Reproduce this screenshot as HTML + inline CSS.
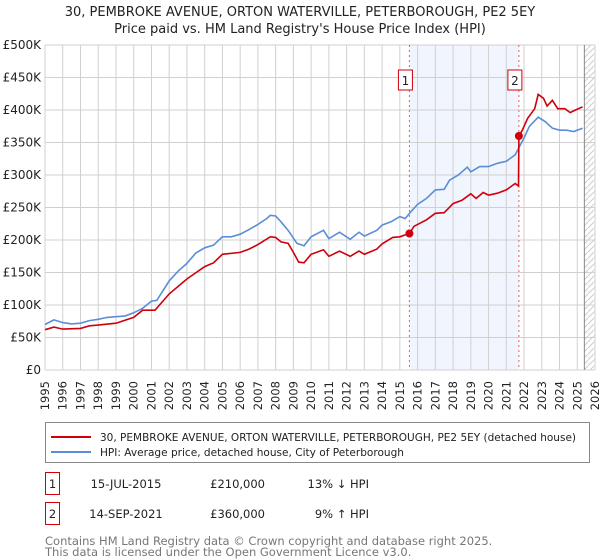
<!DOCTYPE html>
<html><head><meta charset="utf-8"><style>
body{margin:0;background:#fff;font-family:"Liberation Sans","DejaVu Sans",sans-serif;}
#wrap{position:relative;width:600px;height:560px;overflow:hidden;}
svg text{font-family:"DejaVu Sans","Liberation Sans",sans-serif;}
</style></head><body>
<div id="wrap">
<svg id="chart" width="600" height="560"></svg>
</div>
<script>
const yearTicks=[1995,1996,1997,1998,1999,2000,2001,2002,2003,2004,2005,2006,2007,2008,2009,2010,2011,2012,2013,2014,2015,2016,2017,2018,2019,2020,2021,2022,2023,2024,2025,2026];
const valueTicks=[0,50,100,150,200,250,300,350,400,450,500];
const valueTickLabels=["£0","£50K","£100K","£150K","£200K","£250K","£300K","£350K","£400K","£450K","£500K"];
const hpiYears=[1995,1995.5,1996,1996.5,1997,1997.5,1998,1998.5,1999,1999.5,2000,2000.5,2001,2001.3,2002,2002.5,2003,2003.5,2004,2004.5,2005,2005.5,2006,2006.5,2007,2007.5,2007.7,2008,2008.3,2008.7,2009.2,2009.6,2010,2010.7,2011,2011.6,2012.2,2012.7,2013,2013.7,2014,2014.5,2015,2015.3,2015.6,2016,2016.5,2017,2017.5,2017.8,2018.3,2018.8,2019,2019.5,2020,2020.5,2021,2021.5,2022,2022.3,2022.8,2023.2,2023.6,2024,2024.4,2024.8,2025.3];
const hpiValues=[70,77,73,71,72,76,78,81,82,83,88,95,106,107,137,152,164,180,188,192,205,205,209,216,224,233,238,237,228,215,195,191,205,215,202,212,201,212,206,215,223,228,236,233,243,255,264,277,278,292,300,312,305,313,313,318,321,331,357,375,389,382,372,369,369,367,372];
const priceYears=[1995,1995.5,1996,1997,1997.5,1998,1999,2000,2000.5,2001.2,2002,2003,2004,2004.5,2005,2006,2006.5,2007,2007.7,2008,2008.3,2008.7,2009,2009.3,2009.6,2010,2010.7,2011,2011.6,2012.2,2012.7,2013,2013.7,2014,2014.6,2015,2015.54,2015.8,2016.5,2017,2017.5,2018,2018.5,2019,2019.3,2019.7,2020,2020.5,2021,2021.5,2021.69,2021.71,2021.9,2022.2,2022.6,2022.8,2023.1,2023.3,2023.6,2023.9,2024.3,2024.6,2024.9,2025.3];
const priceValues=[62,66,63,64,68,69,72,81,92,92,117,140,159,165,178,181,186,193,205,204,197,195,181,166,165,178,185,175,183,175,183,178,186,194,204,205,210,221,231,241,242,256,261,271,264,273,269,272,277,287,283,360,369,387,402,424,418,406,415,402,402,396,400,405];
const saleYears=[2015.54,2021.71];
const saleValues=[210,360];
const saleLabels=["1","2"];

const NS="http://www.w3.org/2000/svg";
const svg=document.getElementById('chart');
const X0=45,X1=595,Y0=370,Y1=45;
const xs=y=>X0+(y-1995)/(2026-1995)*(X1-X0);
const ys=v=>Y0-v/500*(Y0-Y1);
function mk(tag,attrs,parent){const e=document.createElementNS(NS,tag);for(const k in attrs)e.setAttribute(k,attrs[k]);(parent||svg).appendChild(e);return e;}

let t=mk('text',{x:300,y:16,'text-anchor':'middle','font-size':13,fill:'#222'});t.textContent="30, PEMBROKE AVENUE, ORTON WATERVILLE, PETERBOROUGH, PE2 5EY";


t=mk('text',{x:300,y:33,'text-anchor':'middle','font-size':13,fill:'#222'});t.textContent="Price paid vs. HM Land Registry's House Price Index (HPI)";



let r=mk('rect',{x:xs(saleYears[0]),y:Y1,width:xs(saleYears[1])-xs(saleYears[0]),height:Y0-Y1,fill:'#eef3fc',opacity:0.8});


const defs=mk('defs',{});
const pat=mk('pattern',{id:'hatch',width:6,height:6,patternUnits:'userSpaceOnUse'},defs);
mk('path',{d:'M0,6 L6,0',stroke:'#ccc','stroke-width':1},pat);
r=mk('rect',{x:xs(2025.4),y:Y1,width:X1-xs(2025.4),height:Y0-Y1,fill:'url(#hatch)'});



yearTicks.forEach(y=>{
  const l=mk('line',{x1:xs(y),x2:xs(y),y1:Y1,y2:Y0,stroke:'#d0d0d0','stroke-width':1});
  
  
  const tx=mk('text',{transform:`translate(${xs(y)+4},${Y0+11}) rotate(-90)`,'text-anchor':'end','font-size':11.5,fill:'#222'});
  tx.textContent=y;
  
  
});
valueTicks.forEach((v,i)=>{
  const l=mk('line',{x1:X0,x2:X1,y1:ys(v),y2:ys(v),stroke:'#d0d0d0','stroke-width':1});
  
  
  const tx=mk('text',{x:X0-4,y:ys(v)+4,'text-anchor':'end','font-size':12,fill:'#222'});
  tx.textContent=valueTickLabels[i];
  
  
});
r=mk('line',{x1:xs(2025.4),x2:xs(2025.4),y1:Y1,y2:Y0,stroke:'#888','stroke-width':1});



saleYears.forEach((y,i)=>{
  const l=mk('line',{x1:xs(y),x2:xs(y),y1:Y1,y2:Y0,stroke:'#e86060','stroke-width':1,'stroke-dasharray':'2,3'});
  
  
});

function pts(xa,va){return xa.map((x,i)=>xs(x).toFixed(1)+','+ys(va[i]).toFixed(1)).join(' ');}
let p=mk('polyline',{points:pts(hpiYears,hpiValues),fill:'none',stroke:'#5b8ed6','stroke-width':1.6});


p=mk('polyline',{points:pts(priceYears,priceValues),fill:'none',stroke:'#d0000b','stroke-width':1.6});



saleYears.forEach((y,i)=>{
  const c=mk('circle',{cx:xs(y),cy:ys(saleValues[i]),r:4,fill:'#d0000b'});
  
  
  const b=mk('rect',{x:xs(y)-11,y:70,width:14,height:20,fill:'#fff',stroke:'#d0000b','stroke-width':1});
  
  
  const tx=mk('text',{x:xs(y)-4,y:85,'text-anchor':'middle','font-size':12,fill:'#222'});
  tx.textContent=saleLabels[i];
  
  
});

r=mk('rect',{x:45.5,y:422.5,width:544,height:40,fill:'#fff',stroke:'#888','stroke-width':1});


mk('line',{x1:51,x2:91,y1:437,y2:437,stroke:'#d0000b','stroke-width':2});
t=mk('text',{x:100,y:441,'font-size':11,fill:'#222',textLength:476,lengthAdjust:'spacingAndGlyphs'});t.textContent="30, PEMBROKE AVENUE, ORTON WATERVILLE, PETERBOROUGH, PE2 5EY (detached house)";


mk('line',{x1:51,x2:91,y1:452,y2:452,stroke:'#5b8ed6','stroke-width':2});
t=mk('text',{x:100,y:456,'font-size':11,fill:'#222',textLength:304,lengthAdjust:'spacingAndGlyphs'});t.textContent="HPI: Average price, detached house, City of Peterborough";



const rows=[["1","15-JUL-2015","£210,000","13% ↓ HPI",484],["2","14-SEP-2021","£360,000","9% ↑ HPI",514]];
rows.forEach(rw=>{
  const b=mk('rect',{x:45.5,y:rw[4]-11.5,width:14,height:22,fill:'#fff',stroke:'#d0000b','stroke-width':1});
  
  
  let a=mk('text',{x:52.5,y:rw[4]+4,'text-anchor':'middle','font-size':11.5,fill:'#222'});a.textContent=rw[0];
  
  
  a=mk('text',{x:126,y:rw[4]+4,'text-anchor':'middle','font-size':11.5,fill:'#222'});a.textContent=rw[1];
  
  
  a=mk('text',{x:265,y:rw[4]+4,'text-anchor':'end','font-size':11.5,fill:'#222'});a.textContent=rw[2];
  
  
  a=mk('text',{x:369,y:rw[4]+4,'text-anchor':'end','font-size':11.5,fill:'#222'});a.textContent=rw[3];
  
  
});
t=mk('text',{x:45,y:545,'font-size':11.5,fill:'#777'});t.textContent="Contains HM Land Registry data © Crown copyright and database right 2025.";


t=mk('text',{x:45,y:556,'font-size':11.5,fill:'#777'});t.textContent="This data is licensed under the Open Government Licence v3.0.";


</script>
</body></html>
